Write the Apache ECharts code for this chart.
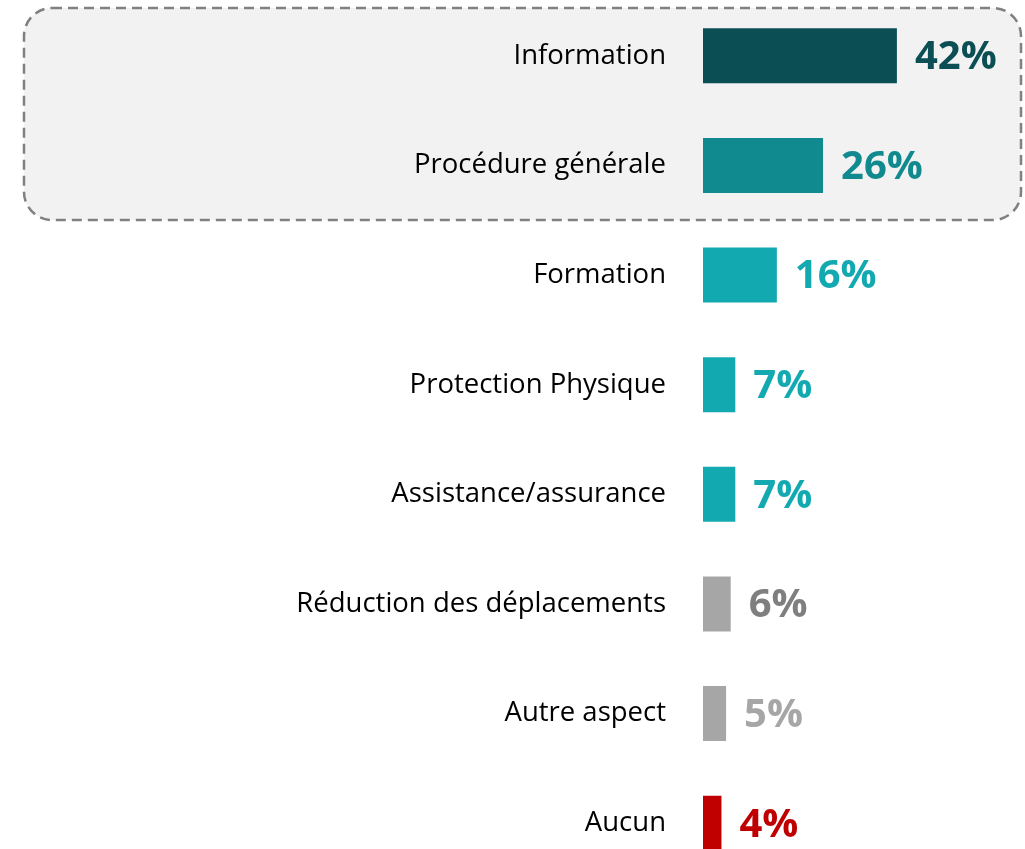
<!DOCTYPE html>
<html>
<head>
<meta charset="utf-8">
<script src="https://cdn.jsdelivr.net/npm/echarts@6/dist/echarts.min.js"></script>
<style>
  html, body { margin: 0; padding: 0; background: #fff; overflow: hidden; }
  #main { width: 1025px; height: 880px; }
</style>
</head>
<body>
<div id="main"></div>
<script>
// données (de haut en bas)
var categories = ['Information', 'Procédure générale', 'Formation', 'Protection Physique',
    'Assistance/assurance', 'Réduction des déplacements', 'Autre aspect', 'Aucun'];
var values = [42, 26, 16, 7, 7, 6, 5, 4];
var barColors = ['#0B4F55', '#118A8F', '#13A9B1', '#13A9B1', '#13A9B1', '#A6A6A6', '#A6A6A6', '#C00000'];
var labelColors = ['#0B4F55', '#118A8F', '#13A9B1', '#13A9B1', '#13A9B1', '#7F7F7F', '#A6A6A6', '#C00000'];

var myChart = echarts.init(document.getElementById('main'));

var seriesData = values.map(function (v, i) {
    return {
        value: v,
        itemStyle: { color: barColors[i] },
        label: { color: labelColors[i] }
    };
});

var option = {
    animation: false,
    backgroundColor: '#ffffff',
    graphic: [{
        type: 'rect',
        z: -10,
        silent: true,
        shape: { x: 24, y: 8, width: 997, height: 212, r: 28 },
        style: {
            fill: '#F2F2F2',
            stroke: '#808080',
            lineWidth: 2.5,
            lineDash: [10, 6]
        }
    }],
    grid: {
        left: 703,
        top: 1,
        width: 277,
        height: 877
    },
    xAxis: {
        type: 'value',
        min: 0,
        max: 60,
        show: false
    },
    yAxis: {
        type: 'category',
        data: categories,
        inverse: true,
        axisLine: { show: false },
        axisTick: { show: false },
        splitLine: { show: false },
        axisLabel: {
            margin: 37,
            color: '#000000',
            fontSize: 27.5,
            fontFamily: 'Open Sans'
        }
    },
    series: [{
        type: 'bar',
        data: seriesData,
        barWidth: 55,
        label: {
            show: true,
            position: 'right',
            distance: 18,
            offset: [0, 2],
            formatter: '{c}%',
            fontSize: 40,
            fontWeight: 'bold',
            fontFamily: 'Open Sans'
        }
    }]
};
myChart.setOption(option);
</script>
</body>
</html>
